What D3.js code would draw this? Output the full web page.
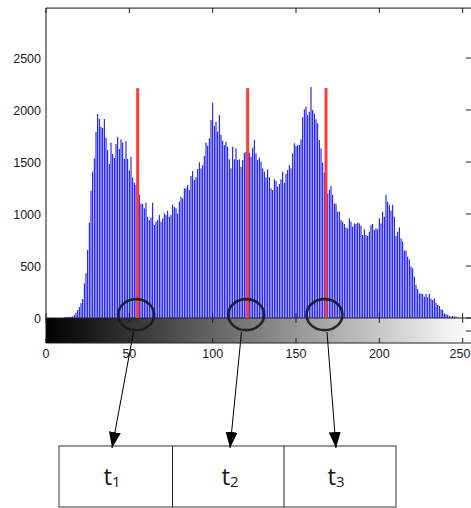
<!DOCTYPE html>
<html>
<head>
<meta charset="utf-8">
<script src="https://cdn.jsdelivr.net/npm/d3@7"></script>
<style>
  body { margin: 0; background: #fff; }
  svg { display: block; }
</style>
</head>
<body>
<svg id="chart" width="471" height="508"></svg>
<script>
// grey level histogram, counts per level 0..255
var counts = [
  0, 0, 0, 0, 0, 0, 0, 0, 0, 0, 0, 5, 8, 10, 10, 12, 15, 30, 51, 77,
  106, 144, 183, 333, 429, 654, 917, 1224, 1407, 1535, 1790, 1961, 1913, 1840, 1827, 1913, 1734, 1615, 1480, 1686,
  1577, 1538, 1673, 1743, 1625, 1718, 1686, 1530, 1700, 1530, 1420, 1550, 1350, 1300, 1280, 1230, 1183, 1102, 1096, 1055,
  1109, 974, 942, 965, 1109, 894, 926, 942, 990, 926, 958, 1006, 990, 1032, 974, 990, 1090, 1067, 1055, 1006,
  1120, 1166, 1150, 1247, 1247, 1279, 1231, 1365, 1413, 1327, 1353, 1432, 1497, 1439, 1471, 1558, 1686, 1657, 1728, 1904,
  2070, 1846, 1888, 1792, 1952, 1760, 1705, 1663, 1695, 1647, 1526, 1439, 1647, 1526, 1631, 1519, 1526, 1455, 1519, 1590,
  1600, 1600, 1590, 1551, 1638, 1711, 1583, 1519, 1541, 1503, 1439, 1407, 1353, 1430, 1353, 1247, 1231, 1334, 1317, 1263,
  1288, 1334, 1407, 1301, 1385, 1423, 1471, 1439, 1583, 1680, 1654, 1660, 1663, 1718, 1930, 2007, 2032, 1952, 1984, 2220,
  2000, 1968, 1910, 1872, 1711, 1631, 1493, 1400, 1250, 1192, 1231, 1269, 1183, 1102, 1096, 1022, 1022, 942, 926, 904,
  869, 862, 958, 926, 878, 910, 904, 917, 910, 888, 798, 853, 798, 788, 830, 894, 904, 846, 862, 853,
  958, 910, 1022, 974, 1183, 1118, 1087, 1032, 1087, 974, 788, 830, 872, 766, 734, 647, 651, 590, 564, 494,
  478, 397, 317, 279, 237, 236, 231, 205, 231, 199, 231, 186, 173, 189, 147, 125, 115, 83, 77, 45,
  38, 29, 19, 13, 19, 13, 13, 5, 0, 0, 0, 0, 0, 0, 0, 0
];

// threshold levels marked in red, and their height
var thresholds = [55, 121, 168];
var markHeight = 2210;

var xTicks = [0, 50, 100, 150, 200, 250];
var yTicks = [0, 500, 1000, 1500, 2000, 2500];
var boxLabels = ['1', '2', '3'];

var svg = d3.select('#chart');

var x = d3.scaleLinear().domain([0, 255]).range([46, 471]);
var y = d3.scaleLinear().domain([0, 2500]).range([318, 58]);
var yTop = y(2980);
var barBottom = 343;   // bottom of the grey ramp

var font = '"Liberation Sans", Arial, sans-serif';

// grey ramp under the histogram
var grad = svg.append('defs').append('linearGradient')
  .attr('id', 'ramp')
  .attr('gradientUnits', 'userSpaceOnUse')
  .attr('x1', x(0)).attr('x2', x(255))
  .attr('y1', 0).attr('y2', 0);
grad.append('stop').attr('offset', 0).attr('stop-color', '#000');
grad.append('stop').attr('offset', 1).attr('stop-color', '#fff');

svg.append('rect')
  .attr('x', x(0)).attr('y', y(0))
  .attr('width', x(255) - x(0)).attr('height', barBottom - y(0))
  .attr('fill', 'url(#ramp)');

// histogram axes ticks (under the bars)
svg.append('g').selectAll('line')
  .data(xTicks)
  .enter().append('line')
  .attr('x1', function(d) { return x(d); })
  .attr('x2', function(d) { return x(d); })
  .attr('y1', y(0)).attr('y2', y(0) - 5)
  .attr('stroke', '#222');

svg.append('g').selectAll('line')
  .data(xTicks)
  .enter().append('line')
  .attr('x1', function(d) { return x(d); })
  .attr('x2', function(d) { return x(d); })
  .attr('y1', yTop).attr('y2', yTop + 5)
  .attr('stroke', '#222');

svg.append('g').selectAll('line')
  .data(yTicks)
  .enter().append('line')
  .attr('x1', x(255)).attr('x2', x(255) - 5)
  .attr('y1', function(d) { return y(d); })
  .attr('y2', function(d) { return y(d); })
  .attr('stroke', '#222');

// bars
svg.append('g').selectAll('rect')
  .data(counts)
  .enter().append('rect')
  .attr('x', function(d, i) { return x(i) - 0.5; })
  .attr('width', 1)
  .attr('y', function(d) { return y(d); })
  .attr('height', function(d) { return y(0) - y(d); })
  .attr('fill', '#0000ff');

// ramp ticks, top and bottom, pointing inward
svg.append('g').selectAll('line')
  .data(xTicks)
  .enter().append('line')
  .attr('x1', function(d) { return x(d); })
  .attr('x2', function(d) { return x(d); })
  .attr('y1', y(0)).attr('y2', y(0) + 5)
  .attr('stroke', '#222');
svg.append('g').selectAll('line')
  .data(xTicks)
  .enter().append('line')
  .attr('x1', function(d) { return x(d); })
  .attr('x2', function(d) { return x(d); })
  .attr('y1', barBottom).attr('y2', barBottom - 5)
  .attr('stroke', '#222');
svg.append('line')
  .attr('x1', x(255) - 5).attr('x2', x(255))
  .attr('y1', (y(0) + barBottom) / 2 + 0.5).attr('y2', (y(0) + barBottom) / 2 + 0.5)
  .attr('stroke', '#222');

// frame lines
svg.append('line').attr('x1', x(0)).attr('x2', x(0)).attr('y1', yTop).attr('y2', barBottom)
  .attr('stroke', '#111');
svg.append('line').attr('x1', x(0)).attr('x2', x(255)).attr('y1', yTop).attr('y2', yTop)
  .attr('stroke', '#111');
svg.append('line').attr('x1', x(0)).attr('x2', x(255)).attr('y1', y(0)).attr('y2', y(0))
  .attr('stroke', '#222');
svg.append('line').attr('x1', x(0)).attr('x2', x(255)).attr('y1', barBottom).attr('y2', barBottom)
  .attr('stroke', '#222');

// tick labels
svg.append('g').selectAll('text')
  .data(yTicks)
  .enter().append('text')
  .attr('x', 41)
  .attr('y', function(d) { return y(d) + 4.5; })
  .attr('text-anchor', 'end')
  .style('font-family', font).style('font-size', '12.5px').attr('fill', '#1a1a1a')
  .text(function(d) { return d; });

svg.append('g').selectAll('text')
  .data(xTicks)
  .enter().append('text')
  .attr('x', function(d) { return Math.min(x(d), 460); })
  .attr('y', 358)
  .attr('text-anchor', 'middle')
  .style('font-family', font).style('font-size', '12.5px').attr('fill', '#1a1a1a')
  .text(function(d) { return d; });

// threshold marks
svg.append('g').selectAll('rect')
  .data(thresholds)
  .enter().append('rect')
  .attr('x', function(d) { return x(d) - 1.5; })
  .attr('width', 3)
  .attr('y', y(markHeight))
  .attr('height', y(0) - y(markHeight))
  .attr('fill', '#ff3b3b');

// circles around thresholds
svg.append('g').selectAll('ellipse')
  .data(thresholds)
  .enter().append('ellipse')
  .attr('cx', function(d) { return x(d) - 1.5; })
  .attr('cy', y(32))
  .attr('rx', 18)
  .attr('ry', 15.5)
  .attr('fill', 'none')
  .attr('stroke', '#1a1a1a')
  .attr('stroke-opacity', 0.9)
  .attr('stroke-width', 2.6);

// boxes with labels
var boxEdges = [59, 172.5, 284, 396];
var boxTop = 446, boxBottom = 507;
var labelX = [112, 230, 336];

svg.append('rect')
  .attr('x', boxEdges[0]).attr('y', boxTop)
  .attr('width', boxEdges[3] - boxEdges[0]).attr('height', boxBottom - boxTop)
  .attr('fill', 'none').attr('stroke', '#555').attr('stroke-width', 1.2);
svg.append('g').selectAll('line')
  .data([boxEdges[1], boxEdges[2]])
  .enter().append('line')
  .attr('x1', function(d) { return d; }).attr('x2', function(d) { return d; })
  .attr('y1', boxTop).attr('y2', boxBottom)
  .attr('stroke', '#222');

var lbl = svg.append('g').selectAll('text')
  .data(boxLabels)
  .enter().append('text')
  .attr('x', function(d, i) { return labelX[i]; })
  .attr('y', 485)
  .attr('text-anchor', 'middle')
  .style('font-family', '"Open Sans", "Noto Sans", sans-serif')
  .attr('fill', '#1a1a1a');
lbl.append('tspan').style('font-size', '24px').text('t');
lbl.append('tspan').style('font-size', '15px').attr('dy', 2).text(function(d) { return d; });

// arrows from circles to boxes
svg.append('defs').append('marker')
  .attr('id', 'head')
  .attr('viewBox', '0 0 16 12')
  .attr('refX', 16).attr('refY', 6)
  .attr('markerWidth', 16).attr('markerHeight', 12)
  .attr('markerUnits', 'userSpaceOnUse')
  .attr('orient', 'auto')
  .append('path').attr('d', 'M0,0L16,6L0,12Z').attr('fill', '#000');

var arrowStart = [133.5, 241.5, 327];
svg.append('g').selectAll('line')
  .data(thresholds)
  .enter().append('line')
  .attr('x1', function(d, i) { return arrowStart[i]; })
  .attr('y1', 332)
  .attr('x2', function(d, i) { return labelX[i]; })
  .attr('y2', boxTop + 2)
  .attr('stroke', '#000')
  .attr('stroke-width', 1)
  .attr('marker-end', 'url(#head)');
</script>
</body>
</html>
